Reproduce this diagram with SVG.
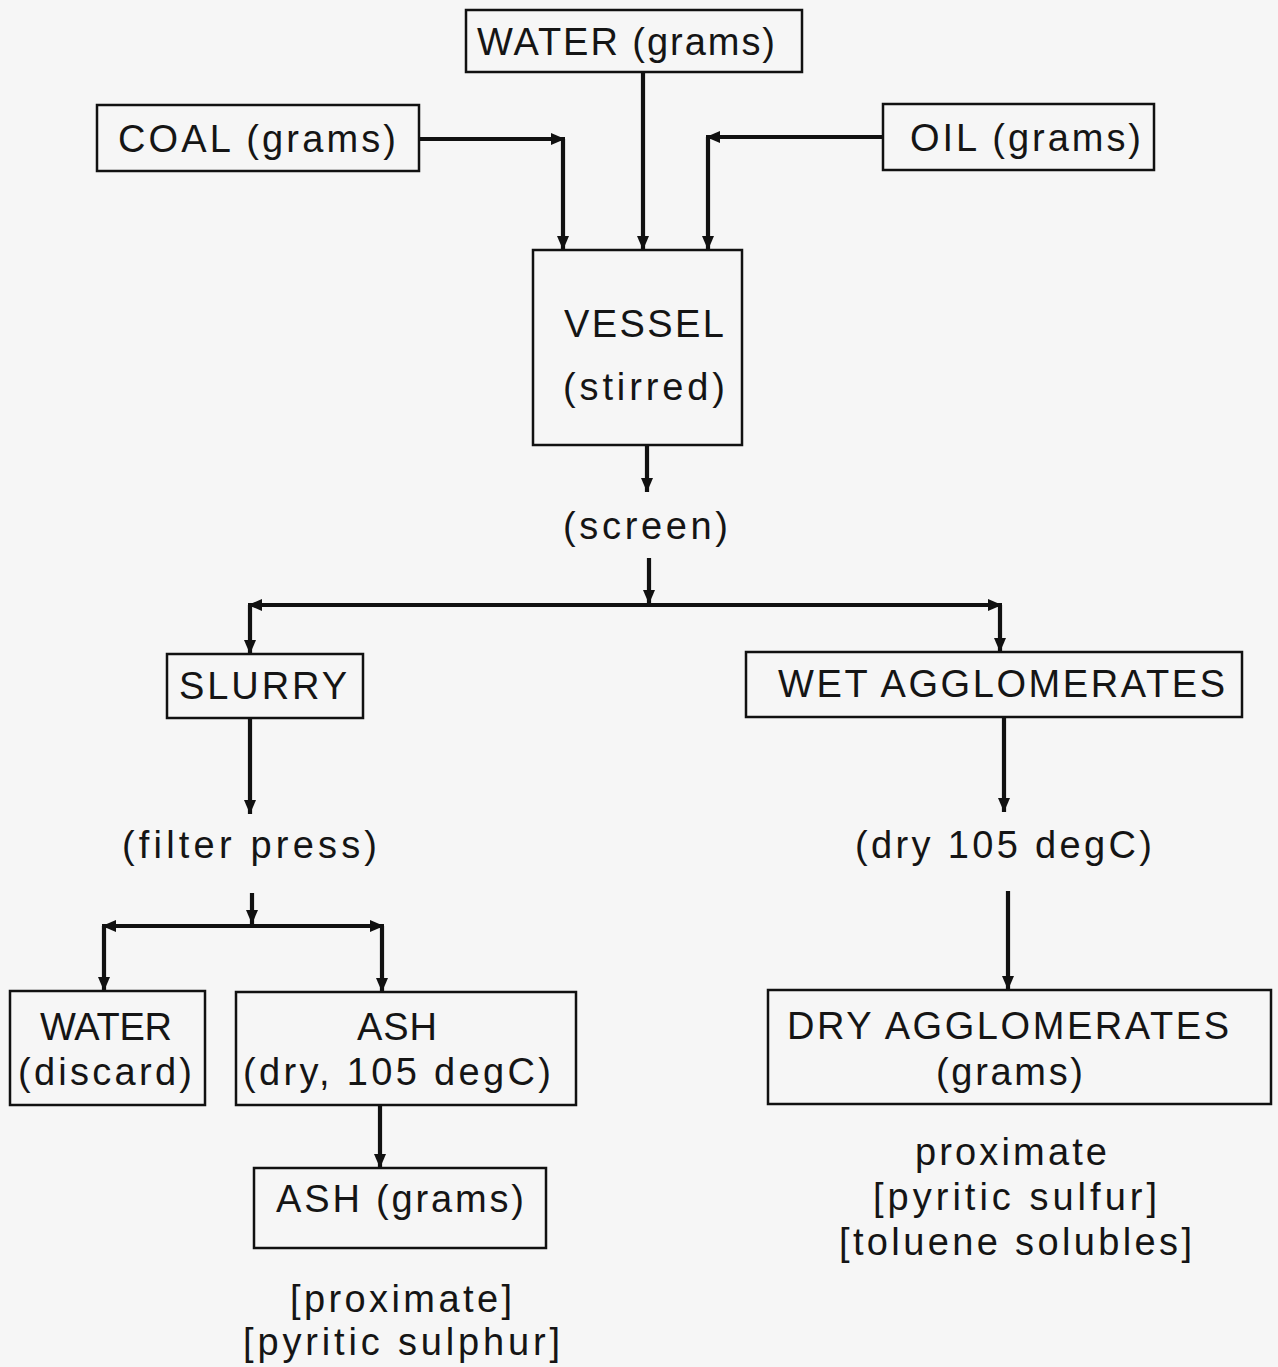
<svg xmlns="http://www.w3.org/2000/svg" width="1278" height="1367" viewBox="0 0 1278 1367">
<defs>
<marker id="ah" viewBox="0 0 14 12" refX="14" refY="6" markerWidth="14" markerHeight="12" markerUnits="userSpaceOnUse" orient="auto">
<path d="M0,0 L14,6 L0,12 Z" fill="#111"/>
</marker>
<style>
.box{fill:none;stroke:#111;stroke-width:2.5}
.t{font-family:"Liberation Sans",Arial,sans-serif;font-size:38px;fill:#151515}
.ca{fill:none;stroke:#111;stroke-width:4.2;marker-end:url(#ah)}
</style>
</defs>
<rect x="0" y="0" width="1278" height="1367" fill="#f6f6f6"/>

<g id="water-in">
<rect class="box" x="466" y="10" width="336" height="62"/>
<text class="t" x="477" y="55" textLength="298" lengthAdjust="spacing">WATER (grams)</text>
</g>
<g id="coal">
<rect class="box" x="97" y="105" width="322" height="66"/>
<text class="t" x="118" y="152" textLength="278" lengthAdjust="spacing">COAL (grams)</text>
</g>
<g id="oil">
<rect class="box" x="883" y="104" width="271" height="66"/>
<text class="t" x="910" y="151" textLength="231" lengthAdjust="spacing">OIL (grams)</text>
</g>
<g id="vessel">
<rect class="box" x="533" y="250" width="209" height="195"/>
<text class="t" x="564" y="337" textLength="160" lengthAdjust="spacing">VESSEL</text>
<text class="t" x="563" y="400" textLength="162" lengthAdjust="spacing">(stirred)</text>
</g>
<g id="screen">
<text class="t" x="563" y="539" textLength="165" lengthAdjust="spacing">(screen)</text>
</g>
<g id="slurry">
<rect class="box" x="167" y="654" width="196" height="64"/>
<text class="t" x="179" y="699" textLength="168" lengthAdjust="spacing">SLURRY</text>
</g>
<g id="wet-agglomerates">
<rect class="box" x="746" y="652" width="496" height="65"/>
<text class="t" x="778" y="697" textLength="447" lengthAdjust="spacing">WET AGGLOMERATES</text>
</g>
<g id="filter-press">
<text class="t" x="122" y="858" textLength="255" lengthAdjust="spacing">(filter press)</text>
</g>
<g id="dry-105">
<text class="t" x="855" y="858" textLength="297" lengthAdjust="spacing">(dry 105 degC)</text>
</g>
<g id="water-discard">
<rect class="box" x="10" y="991" width="195" height="114"/>
<text class="t" x="40" y="1040" textLength="132" lengthAdjust="spacing">WATER</text>
<text class="t" x="18" y="1085" textLength="174" lengthAdjust="spacing">(discard)</text>
</g>
<g id="ash-dry">
<rect class="box" x="236" y="992" width="340" height="113"/>
<text class="t" x="357" y="1040" textLength="80" lengthAdjust="spacing">ASH</text>
<text class="t" x="243" y="1085" textLength="308" lengthAdjust="spacing">(dry, 105 degC)</text>
</g>
<g id="ash-grams">
<rect class="box" x="254" y="1168" width="292" height="80"/>
<text class="t" x="276" y="1212" textLength="248" lengthAdjust="spacing">ASH (grams)</text>
</g>
<g id="ash-analysis">
<text class="t" x="290" y="1312" textLength="222" lengthAdjust="spacing">[proximate]</text>
<text class="t" x="243" y="1355" textLength="317" lengthAdjust="spacing">[pyritic sulphur]</text>
</g>
<g id="dry-agglomerates">
<rect class="box" x="768" y="990" width="503" height="114"/>
<text class="t" x="787" y="1039" textLength="442" lengthAdjust="spacing">DRY AGGLOMERATES</text>
<text class="t" x="936" y="1085" textLength="147" lengthAdjust="spacing">(grams)</text>
</g>
<g id="agglom-analysis">
<text class="t" x="915" y="1165" textLength="192" lengthAdjust="spacing">proximate</text>
<text class="t" x="873" y="1210" textLength="284" lengthAdjust="spacing">[pyritic sulfur]</text>
<text class="t" x="839" y="1255" textLength="353" lengthAdjust="spacing">[toluene solubles]</text>
</g>

<g id="connectors">
<path class="ca" d="M419,139 H565"/>
<path class="ca" d="M563,139 V250"/>
<path class="ca" d="M643,72 V250"/>
<path class="ca" d="M883,137 H706"/>
<path class="ca" d="M708,137 V250"/>
<path class="ca" d="M647,445 V492"/>
<path class="ca" d="M649,558 V604"/>
<path class="ca" d="M649,605 H248"/>
<path class="ca" d="M649,605 H1002"/>
<path class="ca" d="M250,605 V654"/>
<path class="ca" d="M1000,605 V652"/>
<path class="ca" d="M250,718 V814"/>
<path class="ca" d="M252,893 V924"/>
<path class="ca" d="M252,926 H102"/>
<path class="ca" d="M252,926 H384"/>
<path class="ca" d="M104,926 V991"/>
<path class="ca" d="M382,926 V992"/>
<path class="ca" d="M380,1105 V1168"/>
<path class="ca" d="M1004,717 V812"/>
<path class="ca" d="M1008,891 V990"/>
</g>
</svg>
